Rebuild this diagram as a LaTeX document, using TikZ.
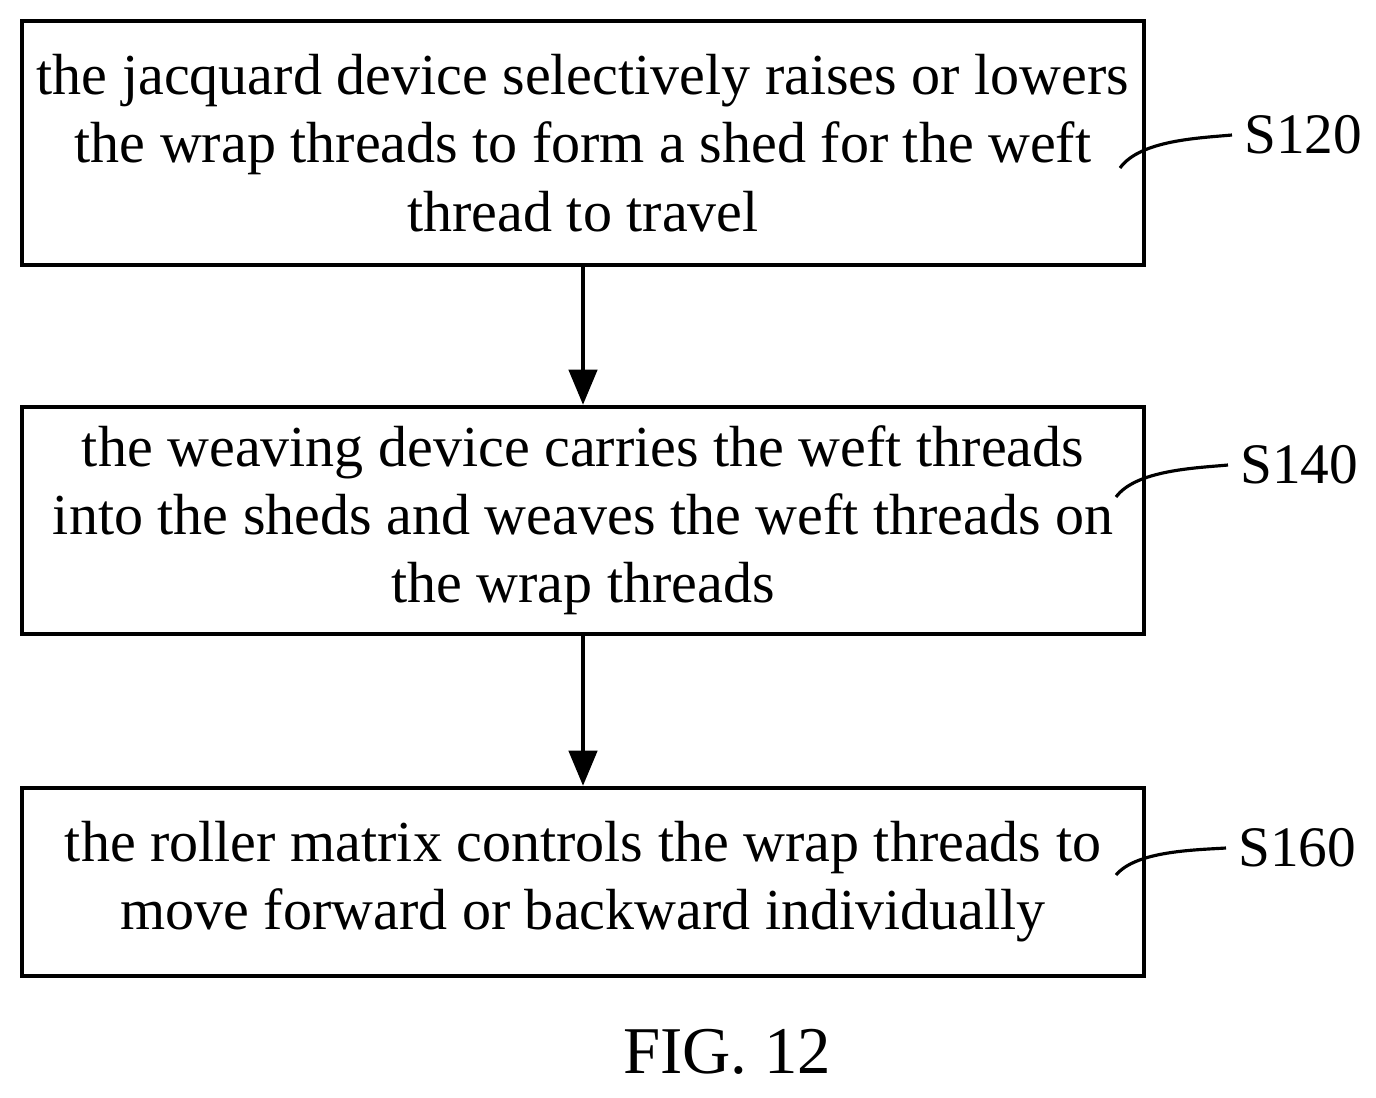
\documentclass[tikz,border=0pt]{standalone}
\usepackage{fontspec}
\setmainfont{Liberation Serif}
\usetikzlibrary{arrows.meta}
\tikzset{
    stepbox/.style = {
        draw,
        line width=1.2pt,
        minimum width=11.22cm,
        align=center,
        font=\fontsize{16.5}{19.4}\selectfont
    },
    flow/.style = {
        line width=1.2pt,
        -{Triangle[length=10pt,width=8pt]}
    },
    leader/.style = {
        line width=0.9pt
    },
    tag/.style = {
        anchor=west,
        font=\fontsize{16.3}{20}\selectfont
    }
}
\begin{document}
\begin{tikzpicture}[x=0.01cm,y=-0.01cm]
    \useasboundingbox (0,0) rectangle (1376,1097);

    % Steps
    \node[stepbox, minimum height=2.44cm] (s120) at (583,143)
        {the jacquard device selectively raises or lowers\\the wrap threads to form a shed for the weft\\thread to travel};
    \node[stepbox, minimum height=2.27cm] (s140) at (583,520.5)
        {the weaving device carries the weft threads\\into the sheds and weaves the weft threads on\\the wrap threads};
    \node[stepbox, minimum height=1.88cm] (s160) at (583,882)
        {the roller matrix controls the wrap threads to\\move forward or backward individually};

    % Arrows
    \draw[flow] (s120) -- (s140);
    \draw[flow] (s140) -- (s160);

    % Step labels
    \node[tag] (t120) at (1232,135) {S120};
    \node[tag] (t140) at (1228,465) {S140};
    \node[tag] (t160) at (1226,848) {S160};
    \coordinate (c120) at (1120,168);
    \coordinate (c140) at (1116,497);
    \coordinate (c160) at (1116,875);
    \draw[leader] (c120) .. controls (1140,140) and (1200,138) .. (t120.west);
    \draw[leader] (c140) .. controls (1136,470) and (1196,468) .. (t140.west);
    \draw[leader] (c160) .. controls (1136,851) and (1194,850) .. (t160.west);

    \node[font=\fontsize{19}{23}\selectfont] (fig) at (727,1052) {FIG. 12};
\end{tikzpicture}
\end{document}
